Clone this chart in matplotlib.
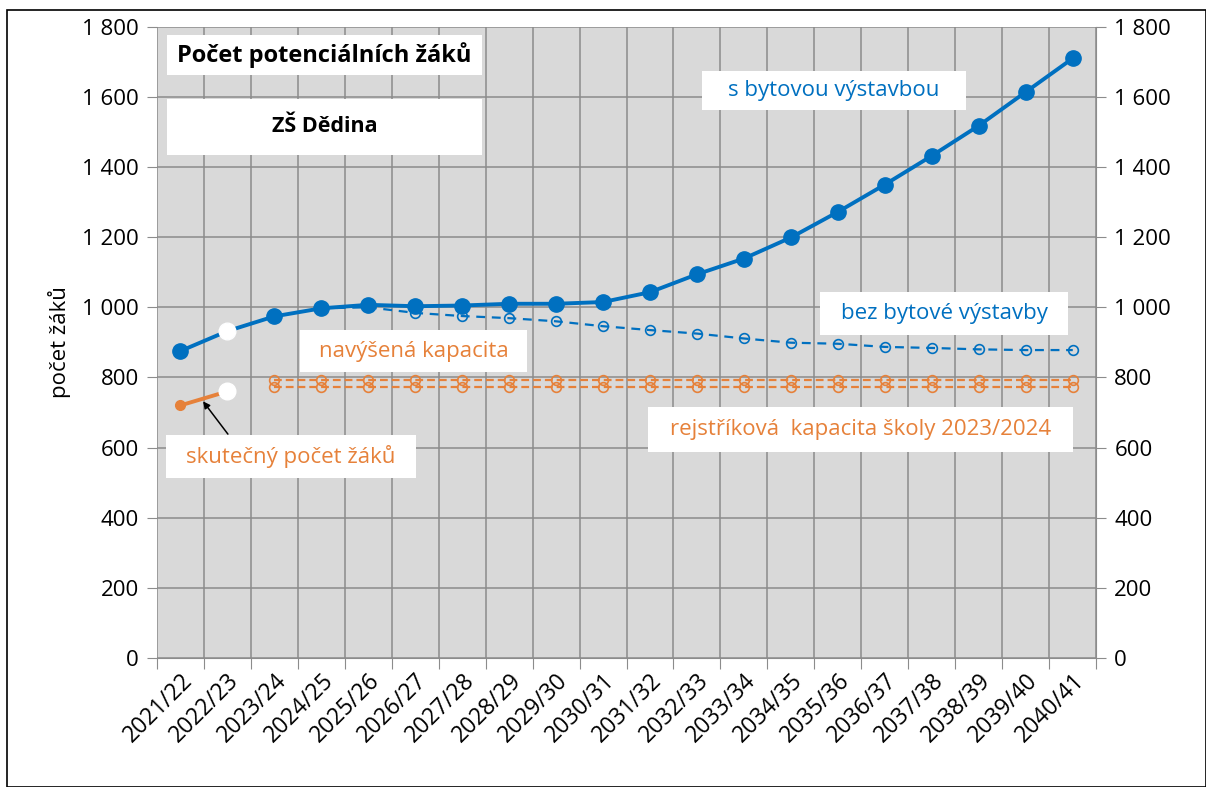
"""Počet potenciálních žáků - ZŠ Dědina."""

import matplotlib.pyplot as plt
import matplotlib.patches as mpatches
from matplotlib.ticker import FuncFormatter, MultipleLocator

plt.rcParams["font.family"] = ["Open Sans", "DejaVu Sans"]

years = [
    "2021/22", "2022/23", "2023/24", "2024/25", "2025/26", "2026/27", "2027/28",
    "2028/29", "2029/30", "2030/31", "2031/32", "2032/33", "2033/34", "2034/35",
    "2035/36", "2036/37", "2037/38", "2038/39", "2039/40", "2040/41",
]

s_vystavbou = [
    875, 932, 974, 997, 1007, 1003, 1005, 1010, 1010, 1015,
    1043, 1094, 1139, 1199, 1272, 1350, 1432, 1518, 1614, 1710,
]
# starts under the solid line at 2024/25
bez_vystavby = [
    None, None, None, 997, 1000, 984, 975, 969, 960, 946,
    935, 925, 911, 899, 896, 887, 884, 880, 878, 878,
]
skutecny_pocet = [720, 760]
navysena_kapacita = 792
rejstrikova_kapacita = 772

BLUE = "#0070c0"
ORANGE = "#e6813a"
GRID = "#8c8c8c"

fig = plt.figure(figsize=(12.06, 7.87), dpi=100)
ax = fig.add_axes([0.130, 0.164, 0.779, 0.802])
ax.set_facecolor("#d9d9d9")

x = list(range(len(years)))

# projection with building development
ax.plot(x, s_vystavbou, color=BLUE, lw=2.8, marker="o", ms=11, zorder=5)
ax.plot(x[1], s_vystavbou[1], "o", color="white", ms=12, zorder=6)

# projection without building development
bx = [i for i, v in zip(x, bez_vystavby) if v is not None]
by = [v for v in bez_vystavby if v is not None]
ax.plot(bx, by, color=BLUE, lw=1.6, ls=(0, (4, 3)), marker="o", ms=7,
        mfc="none", mec=BLUE, mew=1.2, zorder=4)

# capacity lines
cx = x[2:]
ax.plot(cx, [navysena_kapacita] * len(cx), color=ORANGE, lw=1.6, ls=(0, (3.5, 1.8)),
        marker="o", ms=7, mfc="none", mec=ORANGE, mew=1.2, zorder=3)
ax.plot(cx, [rejstrikova_kapacita] * len(cx), color=ORANGE, lw=1.6, ls=(0, (3.5, 1.8)),
        marker="o", ms=7, mfc="none", mec=ORANGE, mew=1.2, zorder=3)

# actual number of pupils
ax.plot(x[:2], skutecny_pocet, color=ORANGE, lw=2.8, marker="o", ms=7, zorder=5)
ax.plot(x[1], skutecny_pocet[1], "o", color="white", ms=12, zorder=6)

ax.set_xlim(-0.5, len(years) - 0.5)
ax.set_ylim(0, 1800)
ax.yaxis.set_major_locator(MultipleLocator(200))
fmt = FuncFormatter(lambda v, _: f"{int(v):,}".replace(",", " "))
ax.yaxis.set_major_formatter(fmt)

ax.set_xticks([i - 0.5 for i in range(len(years) + 1)])
ax.set_xticklabels([])
ax.set_xticks(x, minor=True)
ax.set_xticklabels(years, minor=True, rotation=45, ha="right",
                   rotation_mode="anchor", fontsize=16.5)
ax.tick_params(axis="x", which="minor", length=0, pad=8)
ax.tick_params(axis="x", which="major", length=8, color=GRID)
ax.tick_params(axis="y", length=7, color=GRID, labelsize=16, pad=6)

ax.grid(True, which="major", color=GRID, lw=1.1)
ax.set_axisbelow(True)
for s in ax.spines.values():
    s.set_visible(False)
ax.spines["bottom"].set_visible(True)
ax.spines["bottom"].set_color(GRID)

ax2 = ax.twinx()
ax2.set_ylim(ax.get_ylim())
ax2.yaxis.set_major_locator(MultipleLocator(200))
ax2.yaxis.set_major_formatter(fmt)
ax2.tick_params(axis="y", length=7, color=GRID, labelsize=16, pad=6)
for s in ax2.spines.values():
    s.set_visible(False)
ax2.spines["right"].set_visible(True)
ax2.spines["right"].set_color(GRID)

ax.set_ylabel("počet žáků", fontsize=16, labelpad=8)


W, H = 1206, 787


def box(x0, y0, x1, y1, text, color, bold=False, size=16):
    rect = mpatches.Rectangle((x0 / W, 1 - y1 / H), (x1 - x0) / W, (y1 - y0) / H,
                              transform=fig.transFigure, facecolor="white",
                              edgecolor="none", zorder=10)
    fig.add_artist(rect)
    fig.text((x0 + x1) / 2 / W, 1 - (y0 + y1) / 2 / H, text, color=color,
             fontsize=size, ha="center", va="center",
             fontweight="bold" if bold else "normal", zorder=11)


box(167, 35, 482, 75, "Počet potenciálních žáků", "black", bold=True, size=17)
box(167, 99, 482, 155, "ZŠ Dědina", "black", bold=True, size=15.5)
box(702, 71, 966, 110, "s bytovou výstavbou", BLUE)
box(820, 292, 1068, 335, "bez bytové výstavby", BLUE)
box(300, 330, 527, 372, "navýšená kapacita", ORANGE)
box(648, 407, 1073, 452, "rejstříková  kapacita školy 2023/2024", ORANGE)
box(166, 435, 416, 478, "skutečný počet žáků", ORANGE)

ax.annotate("", xy=(0.45, 738), xytext=(1.05, 632),
            arrowprops=dict(arrowstyle="-|>", color="black", lw=1.1), zorder=12)

fig.add_artist(mpatches.Rectangle((7 / W, 0), 1 - 7 / W, 1 - 10 / H,
                                  transform=fig.transFigure, fill=False,
                                  edgecolor="black", lw=1.2))

fig.savefig("out.png")
plt.close(fig)
